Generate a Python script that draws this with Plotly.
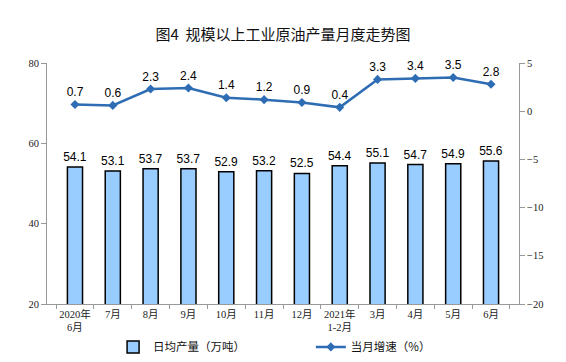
import plotly.graph_objects as go

categories = ["2020年<br>6月", "7月", "8月", "9月", "10月", "11月", "12月",
              "2021年<br>1-2月", "3月", "4月", "5月", "6月"]
daily_output = [54.1, 53.1, 53.7, 53.7, 52.9, 53.2, 52.5, 54.4, 55.1, 54.7, 54.9, 55.6]
growth_rate = [0.7, 0.6, 2.3, 2.4, 1.4, 1.2, 0.9, 0.4, 3.3, 3.4, 3.5, 2.8]

fig = go.Figure()
fig.add_trace(go.Bar(
    x=categories, y=daily_output, name="日均产量（万吨）",
    marker=dict(color="#99CCFF", line=dict(color="#000000", width=1.5)),
    width=0.4,
    text=[f"{v:.1f}" for v in daily_output], textposition="outside",
    constraintext="none",
    textfont=dict(family="Liberation Sans, Arial", size=12, color="#000"),
    cliponaxis=False, legend="legend",
))
fig.add_trace(go.Scatter(
    x=categories, y=growth_rate, name="当月增速（%）", yaxis="y2",
    mode="lines+markers+text",
    line=dict(color="#2E6DB4", width=2.5),
    marker=dict(symbol="diamond", size=7, color="#2E6DB4"),
    text=[f"{v:.1f}" for v in growth_rate], textposition="top center",
    textfont=dict(family="Liberation Sans, Arial", size=12, color="#000"),
    cliponaxis=False, legend="legend2",
))

axis_font = dict(family="Liberation Serif, Times New Roman, Noto Sans CJK SC", size=10.5, color="#222")
legend_font = dict(family="Noto Sans CJK SC", size=11.5, color="#111")
fig.update_layout(
    width=558, height=354,
    margin=dict(l=39, r=47, t=55, b=58, autoexpand=False),
    plot_bgcolor="white", paper_bgcolor="white",
    title=dict(text="图4  规模以上工业原油产量月度走势图", x=275 / 558, xanchor="center",
               y=1 - 27 / 354, yanchor="middle",
               font=dict(family="Noto Sans CJK SC", size=15, color="#111")),
    showlegend=True,
    xaxis=dict(type="category", showline=True, linecolor="#999", linewidth=1,
               ticks="outside", tickson="boundaries", ticklen=4, tickcolor="#999",
               tickangle=0, automargin=False,
               tickfont=axis_font, showgrid=False),
    yaxis=dict(range=[20, 80], dtick=20, showline=True, linecolor="#999", linewidth=1,
               ticks="outside", ticklen=5, tickcolor="#999", tickfont=axis_font,
               showgrid=False, zeroline=False, automargin=False),
    yaxis2=dict(range=[-20, 5], dtick=5, overlaying="y", side="right", showline=True,
                linecolor="#999", linewidth=1, ticks="outside", ticklen=5, tickcolor="#999",
                tickfont=axis_font, showgrid=False, zeroline=False, automargin=False),
    legend=dict(x=0.14, y=-0.178, xanchor="left", yanchor="middle", orientation="h",
                font=legend_font, bgcolor="rgba(0,0,0,0)"),
    legend2=dict(x=0.559, y=-0.178, xanchor="left", yanchor="middle", orientation="h",
                 font=legend_font, bgcolor="rgba(0,0,0,0)"),
    bargap=0.6,
)
fig.write_html("out.html")
